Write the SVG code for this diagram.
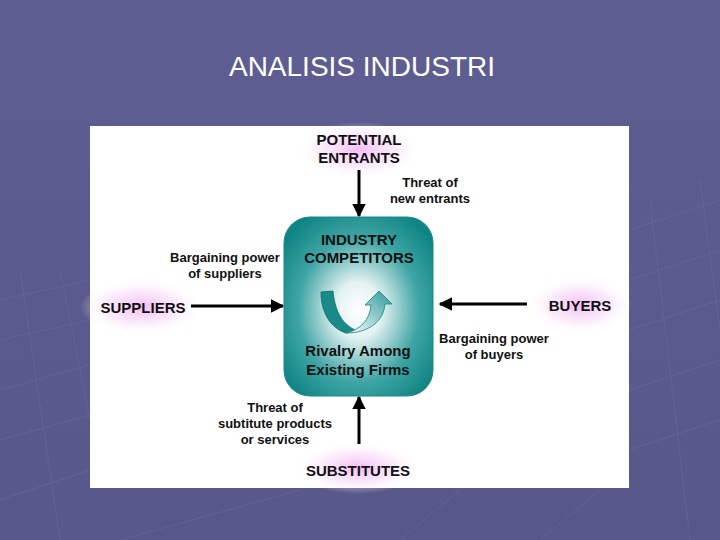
<svg xmlns="http://www.w3.org/2000/svg" width="720" height="540" viewBox="0 0 720 540">
<defs>
<linearGradient id="bg" x1="0" y1="0" x2="0" y2="1">
<stop offset="0" stop-color="#5f5e93"/>
<stop offset="1" stop-color="#57578a"/>
</linearGradient>
<radialGradient id="box" cx="0.5" cy="0.52" r="0.62">
<stop offset="0" stop-color="#ffffff"/>
<stop offset="0.25" stop-color="#e4f2f2"/>
<stop offset="0.65" stop-color="#3fa5a5"/>
<stop offset="1" stop-color="#108484"/>
</radialGradient>
<radialGradient id="glow">
<stop offset="0" stop-color="#f2b4f2" stop-opacity="0.9"/>
<stop offset="0.6" stop-color="#f8d8f8" stop-opacity="0.5"/>
<stop offset="1" stop-color="#ffffff" stop-opacity="0"/>
</radialGradient>
<linearGradient id="arr" x1="0" y1="1" x2="1" y2="0">
<stop offset="0" stop-color="#ffffff"/>
<stop offset="1" stop-color="#2a9a9a"/>
</linearGradient>
<marker id="ah" viewBox="0 0 10 10" refX="9" refY="5" markerWidth="4.5" markerHeight="4.5" orient="auto">
<path d="M0,0 L10,5 L0,10 Z" fill="#000"/>
</marker>
<style>
.t{font-family:"Liberation Sans",Arial,sans-serif;font-weight:bold;fill:#111;text-anchor:middle}
.n{font-size:15px}
.l{font-size:13px}
.c{stroke:#000;stroke-width:3;fill:none;marker-end:url(#ah)}
.g{stroke:#8080b8;stroke-width:1;fill:none;opacity:0.25}
</style>
</defs>
<rect width="720" height="540" fill="url(#bg)"/>
<g class="g">
<path d="M0,300 L90,280 M0,340 L90,320 M0,390 L90,365 M0,440 L90,415 M0,500 L90,470 M20,270 L60,540 M60,270 L90,420"/>
<path d="M629,230 L720,200 M629,280 L720,250 M629,330 L720,300 M629,390 L720,360 M629,450 L720,420 M650,200 L690,540 M700,180 L720,330"/>
<path d="M120,540 L300,490 M400,540 L460,490 M540,540 L600,490"/>
</g>
<text x="362" y="76" style="font-family:'Liberation Sans',Arial,sans-serif;font-size:28px;fill:#fff;text-anchor:middle">ANALISIS INDUSTRI</text>
<rect x="90" y="126" width="539" height="362" fill="#fff"/>
<g id="glows">
<ellipse cx="359" cy="150" rx="62" ry="28" fill="url(#glow)"/>
<ellipse cx="142" cy="307" rx="62" ry="28" fill="url(#glow)"/>
<ellipse cx="580" cy="305" rx="52" ry="28" fill="url(#glow)"/>
<ellipse cx="358" cy="468" rx="62" ry="26" fill="url(#glow)"/>
</g>
<g id="connectors">
<line class="c" x1="359" y1="170" x2="359" y2="216"/>
<line class="c" x1="191" y1="306" x2="283" y2="306"/>
<line class="c" x1="527" y1="304" x2="440" y2="304"/>
<line class="c" x1="359" y1="444" x2="359" y2="397"/>
</g>
<g id="competitors">
<rect x="284" y="217" width="149" height="179" rx="26" fill="url(#box)" stroke="#1a8888" stroke-width="1"/>
<path d="M321,292 L333,291 C335,312 343,326 358,331 L346,333 C330,328 321,312 321,292 Z" fill="#1a8a88" stroke="#0e6e6e" stroke-width="0.8"/>
<path d="M346,333 C370,333 384,320 385,304 L392,304 L379,291 L365,305 L371,305 C370,320 360,330 346,333 Z" fill="url(#arr)" stroke="#1a8080" stroke-width="0.8"/>
<text class="t n" x="359" y="245">INDUSTRY</text>
<text class="t n" x="359" y="263">COMPETITORS</text>
<text class="t n" x="358" y="356">Rivalry Among</text>
<text class="t n" x="358" y="375">Existing Firms</text>
</g>
<g id="entrants">
<text class="t n" x="359" y="145">POTENTIAL</text>
<text class="t n" x="359" y="163">ENTRANTS</text>
</g>
<g id="suppliers">
<text class="t n" x="143" y="313">SUPPLIERS</text>
</g>
<g id="buyers">
<text class="t n" x="580" y="311">BUYERS</text>
</g>
<g id="substitutes">
<text class="t n" x="358" y="476">SUBSTITUTES</text>
</g>
<g id="labels">
<text class="t l" x="430" y="187">Threat of</text>
<text class="t l" x="430" y="203">new entrants</text>
<text class="t l" x="225" y="262">Bargaining power</text>
<text class="t l" x="225" y="278">of suppliers</text>
<text class="t l" x="494" y="343">Bargaining power</text>
<text class="t l" x="494" y="359">of buyers</text>
<text class="t l" x="275" y="412">Threat of</text>
<text class="t l" x="275" y="428">subtitute products</text>
<text class="t l" x="275" y="444">or services</text>
</g>
</svg>
